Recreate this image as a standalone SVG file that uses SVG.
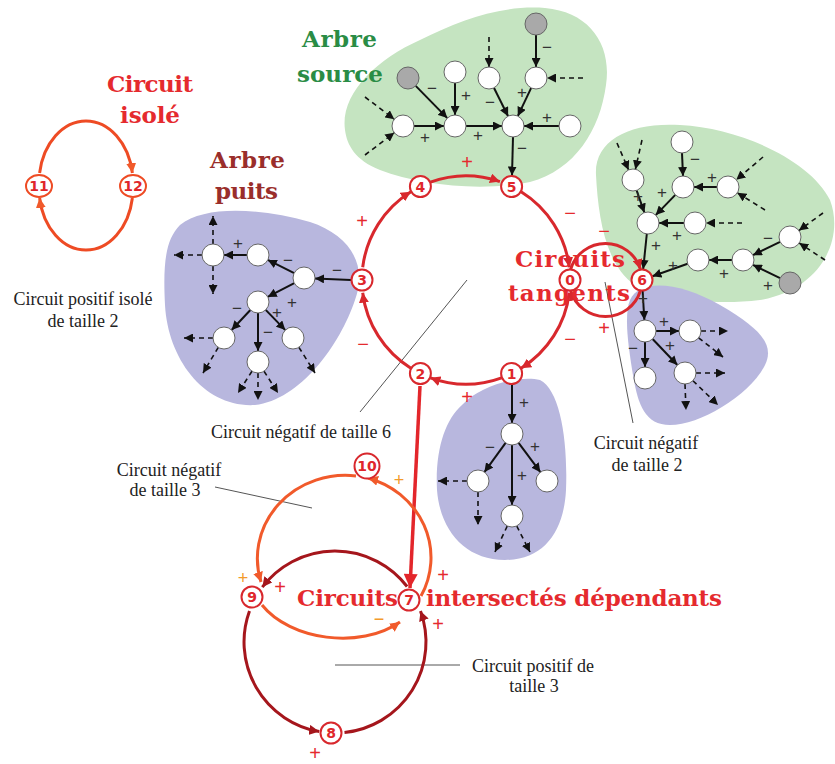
<svg xmlns="http://www.w3.org/2000/svg" width="835" height="764" viewBox="0 0 835 764">
<defs>
<marker id="ab" viewBox="0 0 10 10" refX="10" refY="5" markerWidth="9" markerHeight="9" markerUnits="userSpaceOnUse" orient="auto"><path d="M0,0 L10,5 L0,10 z" fill="#111"/></marker>
<marker id="ar" viewBox="0 0 10 10" refX="10" refY="5" markerWidth="10" markerHeight="10" markerUnits="userSpaceOnUse" orient="auto"><path d="M0,0 L10,5 L0,10 z" fill="#d8282d"/></marker>
<marker id="ao" viewBox="0 0 10 10" refX="10" refY="5" markerWidth="10" markerHeight="10" markerUnits="userSpaceOnUse" orient="auto"><path d="M0,0 L10,5 L0,10 z" fill="#f15a2b"/></marker>
<marker id="ad" viewBox="0 0 10 10" refX="10" refY="5" markerWidth="10" markerHeight="10" markerUnits="userSpaceOnUse" orient="auto"><path d="M0,0 L10,5 L0,10 z" fill="#a5161c"/></marker>
<marker id="abr" viewBox="0 0 10 10" refX="10" refY="5" markerWidth="16" markerHeight="14" markerUnits="userSpaceOnUse" orient="auto"><path d="M0,0 L10,5 L0,10 z" fill="#e3262b"/></marker>
</defs>
<style>
.gb{fill:#c5e4c1}
.pb{fill:#b8b7de}
.e{stroke:#111;stroke-width:2;fill:none;marker-end:url(#ab)}
.d{stroke:#111;stroke-width:1.6;fill:none;stroke-dasharray:5 4;marker-end:url(#ab)}
.tn circle{fill:#fff;stroke:#666;stroke-width:1}
.gn circle{fill:#a9a9a9;stroke:#666;stroke-width:1}
.s{font-family:"Liberation Sans",sans-serif;font-size:17px;fill:#333;text-anchor:middle;dominant-baseline:central}
.rs{font-family:"Liberation Sans",sans-serif;font-size:20px;fill:#e52a2e;text-anchor:middle;dominant-baseline:central}
.os{font-family:"Liberation Sans",sans-serif;font-size:18px;fill:#f39a2c;text-anchor:middle;dominant-baseline:central}
.rn circle,.rn ellipse{fill:#fff;stroke:#d8282d;stroke-width:2}
.rn text{font-family:"DejaVu Sans",sans-serif;font-weight:bold;font-size:14px;fill:#e0262b;text-anchor:middle;dominant-baseline:central}
.lead{stroke:#555;stroke-width:1;fill:none}
.lab{font-family:"Liberation Serif",serif;font-size:18px;fill:#222;text-anchor:middle}
.title{font-family:"DejaVu Serif",serif;font-weight:bold;font-size:23px}
.red{fill:#e52a2e}
.grn{fill:#2a8c45}
.brn{fill:#9a2e2b}
.mc{stroke:#d8282d;stroke-width:3;fill:none;marker-end:url(#ar)}
.oc{stroke:#f15a2b;stroke-width:3;fill:none;marker-end:url(#ao)}
.dc{stroke:#a5161c;stroke-width:3;fill:none;marker-end:url(#ad)}
</style>

<!-- blobs -->
<g id="blobs">
<path class="gb" d="M345,130 C340,95 375,60 420,40 C460,20 500,5 545,8 C590,12 612,45 606,85 C600,130 575,170 530,182 C480,192 420,185 380,170 C355,160 347,145 345,130 Z"/>
<path class="gb" d="M596,175 C594,140 630,122 680,125 C740,128 810,160 830,200 C845,240 820,290 760,300 C710,306 660,298 635,285 C605,265 598,215 596,175 Z"/>
<path class="pb" d="M630,300 C640,278 680,282 720,305 C760,328 775,345 765,365 C750,395 700,425 670,425 C645,425 638,405 633,375 C628,345 624,315 630,300 Z"/>
<path class="pb" d="M462,405 C480,385 520,375 540,380 C560,390 568,440 566,490 C564,530 545,560 505,560 C465,560 440,530 437,490 C435,450 445,420 462,405 Z"/>
<path class="pb" d="M180,225 C205,205 260,208 310,222 C350,235 368,265 355,300 C340,345 300,400 255,405 C205,408 168,360 165,305 C163,265 165,240 180,225 Z"/>
</g>

<!-- leader lines -->
<g id="leaders">
<line class="lead" x1="467" y1="280" x2="360" y2="412"/>
<line class="lead" x1="605" y1="282" x2="633" y2="423"/>
<line class="lead" x1="215" y1="487" x2="312" y2="508"/>
<line class="lead" x1="335" y1="665" x2="460" y2="665"/>
</g>

<g id="connectors">
<!-- top source tree -->
<line class="e" x1="415.7" y1="85.9" x2="447.3" y2="118.1"/>
<line class="e" x1="455" y1="83" x2="455" y2="115"/>
<line class="e" x1="493.9" y1="87.8" x2="508.1" y2="116.2"/>
<line class="e" x1="531.2" y1="87.9" x2="517.8" y2="116.1"/>
<line class="e" x1="536" y1="35" x2="536" y2="67"/>
<line class="d" x1="489" y1="37" x2="489" y2="67"/>
<line class="d" x1="583" y1="78" x2="547" y2="78"/>
<line class="e" x1="414" y1="126" x2="444" y2="126"/>
<line class="e" x1="466" y1="126" x2="502" y2="126"/>
<line class="e" x1="559" y1="126" x2="524" y2="126"/>
<line class="e" x1="513" y1="137" x2="512" y2="175.5"/>
<line class="d" x1="365" y1="97" x2="394.3" y2="119.3"/>
<line class="d" x1="365" y1="155" x2="394.3" y2="132.7"/>
<!-- right source tree -->
<line class="e" x1="682" y1="153" x2="683" y2="176"/>
<line class="e" x1="717" y1="187" x2="694" y2="187"/>
<line class="d" x1="763" y1="157" x2="736.3" y2="179.8"/>
<line class="d" x1="765" y1="210" x2="737.3" y2="192.8"/>
<line class="e" x1="675.3" y1="194.9" x2="655.7" y2="215.1"/>
<line class="e" x1="636.6" y1="190.4" x2="644.4" y2="212.6"/>
<line class="d" x1="617" y1="143" x2="628.6" y2="169.9"/>
<line class="d" x1="642" y1="140" x2="635.4" y2="169.3"/>
<line class="e" x1="684" y1="223" x2="659" y2="223"/>
<line class="d" x1="742" y1="223" x2="706" y2="223"/>
<line class="e" x1="646.8" y1="234" x2="643.2" y2="269"/>
<line class="e" x1="687.6" y1="263.7" x2="652.4" y2="276.3"/>
<line class="e" x1="732" y1="260" x2="709" y2="260"/>
<line class="e" x1="780.1" y1="241.8" x2="752.9" y2="255.2"/>
<line class="e" x1="780.1" y1="278.2" x2="752.9" y2="264.8"/>
<line class="d" x1="823" y1="213" x2="798.9" y2="230.5"/>
<line class="d" x1="825" y1="260" x2="799.2" y2="243"/>
<!-- right sink tree -->
<line class="e" x1="642.6" y1="291" x2="644.4" y2="320"/>
<line class="e" x1="656" y1="331" x2="679" y2="331"/>
<line class="e" x1="652.6" y1="339" x2="677.4" y2="365"/>
<line class="e" x1="645" y1="342" x2="645" y2="367"/>
<line class="d" x1="701" y1="331" x2="728" y2="331"/>
<line class="d" x1="698.6" y1="337.8" x2="723" y2="357"/>
<line class="d" x1="696" y1="373" x2="725" y2="373"/>
<line class="d" x1="692.9" y1="380.7" x2="718" y2="405"/>
<line class="d" x1="685" y1="384" x2="686" y2="410"/>
<!-- bottom sink tree -->
<line class="e" x1="512" y1="384.5" x2="512" y2="423"/>
<line class="e" x1="505.6" y1="442.9" x2="484.4" y2="472.1"/>
<line class="e" x1="518.6" y1="442.8" x2="540.4" y2="472.2"/>
<line class="e" x1="512" y1="445" x2="512" y2="505"/>
<line class="d" x1="467" y1="481" x2="438" y2="481"/>
<line class="d" x1="478" y1="492" x2="478" y2="525"/>
<line class="d" x1="507.3" y1="526" x2="495" y2="552"/>
<line class="d" x1="516.7" y1="526" x2="530" y2="552"/>
<!-- left sink tree -->
<line class="e" x1="351" y1="280" x2="315" y2="278.5"/>
<line class="e" x1="294.2" y1="273.1" x2="267.8" y2="259.9"/>
<line class="e" x1="247" y1="255" x2="224" y2="255"/>
<line class="e" x1="294.3" y1="283.1" x2="267.7" y2="296.9"/>
<line class="e" x1="250.4" y1="310" x2="231.6" y2="330"/>
<line class="e" x1="265.7" y1="309.9" x2="285.3" y2="330.1"/>
<line class="e" x1="258" y1="313" x2="258" y2="351"/>
<line class="d" x1="213" y1="244" x2="213" y2="216"/>
<line class="d" x1="202" y1="255" x2="174" y2="255"/>
<line class="d" x1="213" y1="266" x2="213" y2="294"/>
<line class="d" x1="213" y1="338" x2="184" y2="338"/>
<line class="d" x1="218.3" y1="347.4" x2="203" y2="373"/>
<line class="d" x1="298.9" y1="347.3" x2="315" y2="373"/>
<line class="d" x1="252" y1="371.2" x2="238" y2="393"/>
<line class="d" x1="258" y1="373" x2="258" y2="400"/>
<line class="d" x1="264" y1="371.2" x2="278" y2="393"/>
<!-- main negative circuit of size 6 -->
<path class="mc" d="M430.4,182.2 A104,104 0 0 1 499.9,181.6"/>
<path class="mc" d="M521.1,191.8 A104,104 0 0 1 569.3,267.3"/>
<path class="mc" d="M569.3,292.7 A104,104 0 0 1 521.1,368.2"/>
<path class="mc" d="M501.6,377.8 A104,104 0 0 1 430.4,377.8"/>
<path class="mc" d="M410.9,368.2 A104,104 0 0 1 362.7,292.7"/>
<path class="mc" d="M362.7,267.3 A104,104 0 0 1 410.9,191.8"/>
<!-- tangent circuit -->
<path class="mc" d="M570.6,269.3 A36.5,36.5 0 0 1 640.4,269.3"/>
<path class="mc" d="M640.4,290.7 A36.5,36.5 0 0 1 570.6,290.7"/>
<!-- 2 -> 7 -->
<line x1="420" y1="386" x2="410" y2="588" stroke="#e3262b" stroke-width="3.5" marker-end="url(#abr)"/>
<!-- isolated circuit -->
<path d="M39.6,173 A47,62 0 0 1 132.4,173" stroke="#ee4b24" stroke-width="3" fill="none" marker-end="url(#ao)"/>
<path d="M132.4,198 A47,62 0 0 1 39.6,198" stroke="#ee4b24" stroke-width="3" fill="none" marker-end="url(#ao)"/>
<!-- orange negative circuit of size 3 -->
<path class="oc" d="M421,596 A88,83 0 0 0 368,478"/>
<path class="oc" d="M356,476 A88,83 0 0 0 261,582"/>
<path class="oc" d="M262,605 C290,640 360,650 400,622"/>
<!-- dark red positive circuit of size 3 -->
<path class="dc" d="M407.1,586.5 A91,91 0 0 0 262.3,587.2"/>
<path class="dc" d="M249.5,610.9 A91,91 0 0 0 319.2,731.6"/>
<path class="dc" d="M344.5,732.5 A91,91 0 0 0 420.5,610.9"/>
</g>

<!-- signs -->
<g id="signs">
<text class="s" x="432" y="88">−</text><text class="s" x="466" y="95">+</text><text class="s" x="490" y="102">−</text><text class="s" x="522" y="92">+</text><text class="s" x="547" y="47">−</text><text class="s" x="425" y="137">+</text><text class="s" x="478" y="135">+</text><text class="s" x="547" y="117">+</text><text class="s" x="522" y="148">−</text>
<text class="s" x="695" y="159">−</text><text class="s" x="712" y="177">+</text><text class="s" x="662" y="192">+</text><text class="s" x="638" y="196">+</text><text class="s" x="677" y="235">+</text><text class="s" x="656" y="245">+</text><text class="s" x="673" y="265">+</text><text class="s" x="724" y="273">+</text><text class="s" x="768" y="238">−</text><text class="s" x="768" y="285">+</text>
<text class="s" x="643" y="298">+</text><text class="s" x="664" y="321">+</text><text class="s" x="670" y="345">+</text><text class="s" x="633" y="348">−</text>
<text class="s" x="524" y="402">+</text><text class="s" x="490" y="447">−</text><text class="s" x="535" y="446">+</text><text class="s" x="522" y="475">+</text>
<text class="s" x="337" y="270">−</text><text class="s" x="288" y="260">−</text><text class="s" x="238" y="243">+</text><text class="s" x="292" y="302">+</text><text class="s" x="237" y="308">−</text><text class="s" x="277" y="312">+</text><text class="s" x="268" y="332">−</text>
<text class="rs" x="467" y="162">+</text><text class="rs" x="570" y="213">−</text><text class="rs" x="570" y="339">−</text><text class="rs" x="467" y="397">+</text><text class="rs" x="363" y="344">−</text><text class="rs" x="362" y="221">+</text>
<text class="rs" x="604" y="231">−</text><text class="rs" x="604" y="328">+</text>
<text class="os" x="399" y="480">+</text><text class="os" x="243" y="578">+</text><text class="os" x="379" y="619">−</text>
<text class="rs" x="443" y="575">+</text><text class="rs" x="280" y="587">+</text><text class="rs" x="438" y="624">+</text><text class="rs" x="315" y="753">+</text>
</g>

<!-- titles -->
<g id="titles">
<text class="title red" x="107" y="92" textLength="86">Circuit</text>
<text class="title red" x="120" y="123" textLength="60">isolé</text>
<text class="title grn" x="302" y="47" textLength="75">Arbre</text>
<text class="title grn" x="297" y="82" textLength="86">source</text>
<text class="title brn" x="210" y="168" textLength="75">Arbre</text>
<text class="title brn" x="215" y="199" textLength="63">puits</text>
<text class="title red" x="515" y="267" textLength="110">Circuits</text>
<text class="title red" x="508" y="301" textLength="122">tangents</text>
<text class="title red" y="606"><tspan x="297" textLength="101">Circuits</tspan><tspan x="426" textLength="296">intersectés dépendants</tspan></text>
</g>

<!-- black labels -->
<g id="labels">
<text class="lab" x="83" y="305">Circuit positif isolé</text>
<text class="lab" x="83" y="327">de taille 2</text>
<text class="lab" x="301" y="438">Circuit négatif de taille 6</text>
<text class="lab" x="169" y="476">Circuit négatif</text>
<text class="lab" x="165" y="496">de taille 3</text>
<text class="lab" x="646" y="449">Circuit négatif</text>
<text class="lab" x="647" y="471">de taille 2</text>
<text class="lab" x="533" y="672">Circuit positif de</text>
<text class="lab" x="534" y="692">taille 3</text>
</g>

<!-- tree nodes -->
<g id="tA" class="gn"><circle cx="408" cy="78" r="11"/></g>
<g id="tB" class="tn"><circle cx="455" cy="72" r="11"/></g>
<g id="tC" class="tn"><circle cx="489" cy="78" r="11"/></g>
<g id="tD" class="gn"><circle cx="536" cy="24" r="11"/></g>
<g id="tE" class="tn"><circle cx="536" cy="78" r="11"/></g>
<g id="tF" class="tn"><circle cx="403" cy="126" r="11"/></g>
<g id="tG" class="tn"><circle cx="455" cy="126" r="11"/></g>
<g id="tH" class="tn"><circle cx="513" cy="126" r="11"/></g>
<g id="tI" class="tn"><circle cx="570" cy="126" r="11"/></g>
<g id="ra" class="tn"><circle cx="682" cy="142" r="11"/></g>
<g id="rb" class="tn"><circle cx="633" cy="180" r="11"/></g>
<g id="rc" class="tn"><circle cx="683" cy="187" r="11"/></g>
<g id="rd" class="tn"><circle cx="728" cy="187" r="11"/></g>
<g id="re" class="tn"><circle cx="648" cy="223" r="11"/></g>
<g id="rf" class="tn"><circle cx="695" cy="223" r="11"/></g>
<g id="rg" class="tn"><circle cx="790" cy="237" r="11"/></g>
<g id="rh" class="tn"><circle cx="698" cy="260" r="11"/></g>
<g id="ri" class="tn"><circle cx="743" cy="260" r="11"/></g>
<g id="rj" class="gn"><circle cx="790" cy="283" r="11"/></g>
<g id="pp" class="tn"><circle cx="645" cy="331" r="11"/></g>
<g id="pq" class="tn"><circle cx="690" cy="331" r="11"/></g>
<g id="pr" class="tn"><circle cx="645" cy="378" r="11"/></g>
<g id="ps" class="tn"><circle cx="685" cy="373" r="11"/></g>
<g id="bu" class="tn"><circle cx="512" cy="434" r="11"/></g>
<g id="bv" class="tn"><circle cx="478" cy="481" r="11"/></g>
<g id="bw" class="tn"><circle cx="547" cy="481" r="11"/></g>
<g id="bx" class="tn"><circle cx="512" cy="516" r="11"/></g>
<g id="lk" class="tn"><circle cx="213" cy="255" r="11"/></g>
<g id="ll" class="tn"><circle cx="258" cy="255" r="11"/></g>
<g id="lm" class="tn"><circle cx="304" cy="278" r="11"/></g>
<g id="ln" class="tn"><circle cx="258" cy="302" r="11"/></g>
<g id="lo" class="tn"><circle cx="224" cy="338" r="11"/></g>
<g id="lp" class="tn"><circle cx="293" cy="338" r="11"/></g>
<g id="lq" class="tn"><circle cx="258" cy="362" r="11"/></g>

<!-- circuit nodes -->
<g id="n0" class="rn"><circle cx="570" cy="280" r="10.5"/><text x="570" y="280">0</text></g>
<g id="n1" class="rn"><circle cx="511.6" cy="373.5" r="10.5"/><text x="511.6" y="373.5">1</text></g>
<g id="n2" class="rn"><circle cx="420.4" cy="373.5" r="10.5"/><text x="420.4" y="373.5">2</text></g>
<g id="n3" class="rn"><circle cx="362" cy="280" r="10.5"/><text x="362" y="280">3</text></g>
<g id="n4" class="rn"><circle cx="420.4" cy="186.5" r="10.5"/><text x="420.4" y="186.5">4</text></g>
<g id="n5" class="rn"><circle cx="511.6" cy="186.5" r="10.5"/><text x="511.6" y="186.5">5</text></g>
<g id="n6" class="rn"><circle cx="642" cy="280" r="10.5"/><text x="642" y="280">6</text></g>
<g id="n7" class="rn"><circle cx="409" cy="600" r="10.5"/><text x="409" y="600">7</text></g>
<g id="n8" class="rn"><circle cx="331" cy="733" r="10.5"/><text x="331" y="733">8</text></g>
<g id="n9" class="rn"><circle cx="252" cy="597" r="10.5"/><text x="252" y="597">9</text></g>
<g id="n10" class="rn"><circle cx="367" cy="466" r="12.5"/><text x="367" y="466">10</text></g>
<g id="n11" class="rn"><ellipse cx="39" cy="186" rx="13" ry="11" style="stroke:#ee4b24"/><text x="39" y="186">11</text></g>
<g id="n12" class="rn"><ellipse cx="133" cy="186" rx="13" ry="11" style="stroke:#ee4b24"/><text x="133" y="186">12</text></g>
</svg>
